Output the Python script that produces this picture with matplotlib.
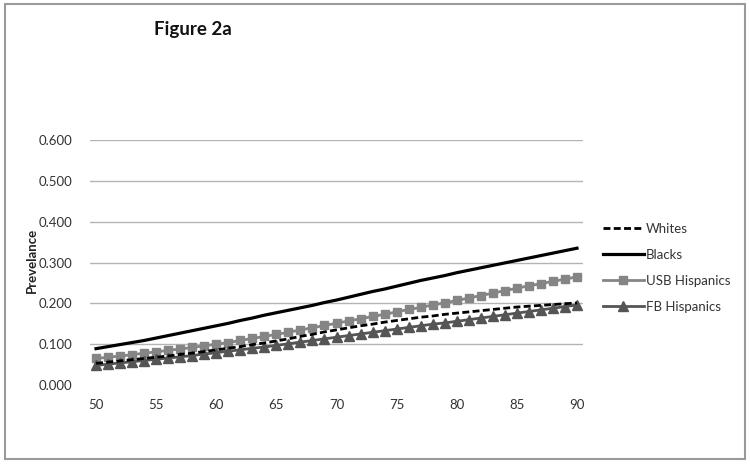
import matplotlib
matplotlib.use("Agg")
import matplotlib.pyplot as plt
from matplotlib.patches import Rectangle

ages = list(range(50, 91))

whites = [0.053, 0.056, 0.059, 0.062, 0.065, 0.068,
          0.071, 0.075, 0.078, 0.082, 0.086,
          0.090, 0.094, 0.099, 0.103, 0.108,
          0.113, 0.119, 0.124, 0.130, 0.135,
          0.140, 0.145, 0.149, 0.154, 0.158,
          0.162, 0.166, 0.169, 0.173, 0.176,
          0.179, 0.182, 0.185, 0.188, 0.191,
          0.193, 0.195, 0.197, 0.199, 0.201]

blacks = [0.089, 0.094, 0.099, 0.104, 0.109, 0.115,
          0.121, 0.127, 0.133, 0.139, 0.145,
          0.151, 0.158, 0.164, 0.171, 0.177,
          0.183, 0.189, 0.195, 0.202, 0.208,
          0.215, 0.222, 0.229, 0.235, 0.242,
          0.249, 0.256, 0.262, 0.268, 0.275,
          0.281, 0.287, 0.293, 0.299, 0.305,
          0.311, 0.317, 0.323, 0.329, 0.335]

usb_hispanics = [0.065, 0.068, 0.071, 0.074, 0.078, 0.081,
                 0.085, 0.088, 0.092, 0.096, 0.100,
                 0.104, 0.109, 0.114, 0.119, 0.124,
                 0.129, 0.135, 0.140, 0.146, 0.151,
                 0.157, 0.162, 0.168, 0.173, 0.179,
                 0.185, 0.190, 0.196, 0.201, 0.207,
                 0.213, 0.219, 0.225, 0.231, 0.237,
                 0.243, 0.248, 0.254, 0.259, 0.265]

fb_hispanics = [0.048, 0.051, 0.054, 0.057, 0.060, 0.063,
                0.066, 0.069, 0.072, 0.076, 0.079,
                0.083, 0.086, 0.090, 0.093, 0.097,
                0.101, 0.105, 0.109, 0.113, 0.117,
                0.121, 0.125, 0.129, 0.133, 0.137,
                0.141, 0.145, 0.149, 0.152, 0.156,
                0.160, 0.164, 0.168, 0.172, 0.176,
                0.180, 0.184, 0.188, 0.192, 0.196]

xticks = [50, 55, 60, 65, 70, 75, 80, 85, 90]
yticks = [0.0, 0.1, 0.2, 0.3, 0.4, 0.5, 0.6]
ytick_labels = ["0.000", "0.100", "0.200", "0.300", "0.400", "0.500", "0.600"]

plt.rcParams['font.family'] = ['Lato', 'DejaVu Sans']

fig = plt.figure(figsize=(7.5, 4.66), dpi=100)
W, H = 750, 466
ax = fig.add_axes([90 / W, 1 - 385 / H, 493 / W, 245 / H])

ax.plot(ages, whites, color='black', lw=2.0, ls=(0, (2.5, 1.2)), label='Whites', zorder=3)
ax.plot(ages, blacks, color='black', lw=2.3, label='Blacks', zorder=3)
ax.plot(ages, usb_hispanics, color='#858585', lw=2.0, marker='s', ms=6,
        label='USB Hispanics', zorder=2)
ax.plot(ages, fb_hispanics, color='#555555', lw=2.0, marker='^', ms=6.5,
        label='FB Hispanics', zorder=2)

ax.set_xlim(49.5, 90.5)
ax.set_ylim(0, 0.6)
ax.set_xticks(xticks)
ax.set_xticklabels([str(t) for t in xticks])
ax.set_yticks(yticks)
ax.set_yticklabels(ytick_labels)
ax.tick_params(length=0, labelsize=9.5, labelcolor='#333333')
ax.tick_params(axis='y', pad=13)
ax.tick_params(axis='x', pad=10)
for s in ax.spines.values():
    s.set_visible(False)
for yv in yticks[1:]:
    ax.axhline(yv, color='#b4b4b4', lw=1.0, zorder=0)

ax.set_ylabel('Prevelance', fontsize=9.5, fontweight='bold', color='#222222')
ax.yaxis.set_label_coords(-0.105, 0.51)

fig.text(193 / W, 1 - 30 / H, 'Figure 2a', fontsize=13.5, fontweight='bold',
         ha='center', va='center', color='#111111')

leg = ax.legend(loc='upper left', bbox_to_anchor=(603 / W, 1 - 223 / H),
                bbox_transform=fig.transFigure, frameon=False, fontsize=9.5,
                labelspacing=1.05, handlelength=3.1, handletextpad=0.15,
                borderaxespad=0, borderpad=0)
for t in leg.get_texts():
    t.set_color('#333333')

fig.patches.append(Rectangle((5 / W, 1 - 459 / H), 740 / W, 455 / H,
                             transform=fig.transFigure, fill=False,
                             edgecolor='#9a9a9a', lw=1.5))

fig.savefig('out.png', dpi=100)
